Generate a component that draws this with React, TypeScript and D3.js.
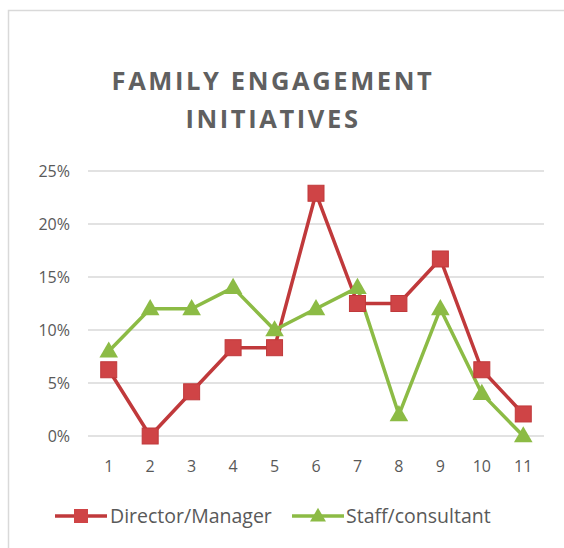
import React, { useEffect, useRef } from 'react';
import * as d3 from 'd3';

const categories = ['1', '2', '3', '4', '5', '6', '7', '8', '9', '10', '11'];
const directorValues = [6.25, 0, 4.17, 8.33, 8.33, 22.9, 12.5, 12.5, 16.7, 6.25, 2.08];
const staffValues = [8, 12, 12, 14, 10, 12, 14, 2, 12, 4, 0];
const yTicks = [0, 5, 10, 15, 20, 25];
const seriesNames = ['Director/Manager', 'Staff/consultant'];

const App = () => {
  const svgRef = useRef<SVGSVGElement>(null);

  useEffect(() => {
    const svg = d3.select(svgRef.current);
    svg.selectAll('*').remove();

    const width = 564;
    const height = 548;
    const margin = { top: 171, right: 20, bottom: 112, left: 88 };
    const innerW = 544 - margin.left;
    const innerH = 436 - margin.top;
    const font = "'Open Sans', 'Noto Sans', sans-serif";
    const textColor = '#595959';
    const red = '#c0393b';
    const redFill = '#cf4446';
    const green = '#8cbb45';

    svg.attr('width', width).attr('height', height);

    // chart frame
    svg.append('rect')
      .attr('x', 8.5).attr('y', 10.5)
      .attr('width', 600).attr('height', 600)
      .attr('fill', 'white')
      .attr('stroke', '#d9d9d9')
      .attr('stroke-width', 1.5);

    // title
    const title = svg.append('text')
      .attr('text-anchor', 'middle')
      .attr('fill', '#606060')
      .attr('font-family', font)
      .attr('font-weight', 'bold')
      .attr('font-size', 25.5)
      .attr('letter-spacing', 2.6);
    title.append('tspan').attr('x', 273).attr('y', 90).text('FAMILY ENGAGEMENT');
    title.append('tspan').attr('x', 273).attr('y', 128).text('INITIATIVES');

    const g = svg.append('g')
      .attr('transform', 'translate(' + margin.left + ',' + margin.top + ')');

    const x = d3.scaleBand()
      .domain(categories)
      .range([0, innerW]);

    const y = d3.scaleLinear()
      .domain([0, 25])
      .range([innerH, 0]);

    const cx = (i: number) => (x(categories[i]) as number) + x.bandwidth() / 2;

    // gridlines
    g.selectAll('.grid')
      .data(yTicks)
      .enter().append('line')
      .attr('x1', 0).attr('x2', innerW)
      .attr('y1', d => y(d)).attr('y2', d => y(d))
      .attr('stroke', '#d9d9d9')
      .attr('stroke-width', 1.5);

    // y labels
    g.selectAll('.ylab')
      .data(yTicks)
      .enter().append('text')
      .attr('x', -18)
      .attr('y', d => y(d))
      .attr('dy', '0.35em')
      .attr('text-anchor', 'end')
      .attr('fill', textColor)
      .attr('font-family', font)
      .attr('font-size', 16)
      .text(d => d + '%');

    // x labels
    g.selectAll('.xlab')
      .data(categories)
      .enter().append('text')
      .attr('x', (d, i) => cx(i))
      .attr('y', innerH + 36)
      .attr('text-anchor', 'middle')
      .attr('fill', textColor)
      .attr('font-family', font)
      .attr('font-size', 16)
      .text(d => d);

    const line = d3.line<number>()
      .x((d, i) => cx(i))
      .y(d => y(d));

    const tri = d3.symbol().type(d3.symbolTriangle).size(150);

    // director series
    g.append('path')
      .datum(directorValues)
      .attr('fill', 'none')
      .attr('stroke', red)
      .attr('stroke-width', 3.5)
      .attr('stroke-linejoin', 'round')
      .attr('d', line);

    // staff series
    g.append('path')
      .datum(staffValues)
      .attr('fill', 'none')
      .attr('stroke', green)
      .attr('stroke-width', 3.5)
      .attr('stroke-linejoin', 'round')
      .attr('d', line);

    g.selectAll('.sq')
      .data(directorValues)
      .enter().append('rect')
      .attr('x', (d, i) => cx(i) - 8)
      .attr('y', d => y(d) - 8)
      .attr('width', 16).attr('height', 16)
      .attr('fill', redFill)
      .attr('stroke', red)
      .attr('stroke-width', 1);

    g.selectAll('.tri')
      .data(staffValues)
      .enter().append('path')
      .attr('transform', (d, i) => 'translate(' + cx(i) + ',' + (y(d) + 1) + ')')
      .attr('d', tri)
      .attr('fill', green);

    // legend
    const legend = svg.append('g').attr('transform', 'translate(0,516)');
    const items = [
      { name: seriesNames[0], color: red, x0: 55, textX: 110 },
      { name: seriesNames[1], color: green, x0: 292, textX: 346 },
    ];
    items.forEach((it, k) => {
      legend.append('line')
        .attr('x1', it.x0).attr('x2', it.x0 + 52)
        .attr('y1', 0).attr('y2', 0)
        .attr('stroke', it.color)
        .attr('stroke-width', 3.5);
      if (k === 0) {
        legend.append('rect')
          .attr('x', it.x0 + 19).attr('y', -7)
          .attr('width', 14).attr('height', 14)
          .attr('fill', redFill);
      } else {
        legend.append('path')
          .attr('transform', 'translate(' + (it.x0 + 26) + ',1)')
          .attr('d', d3.symbol().type(d3.symbolTriangle).size(110))
          .attr('fill', green);
      }
      legend.append('text')
        .attr('x', it.textX)
        .attr('y', 0)
        .attr('dy', '0.35em')
        .attr('fill', textColor)
        .attr('font-family', font)
        .attr('font-size', 19.5)
        .text(it.name);
    });
  }, []);

  return <svg ref={svgRef} style={{ position: 'absolute', left: 0, top: 0 }}></svg>;
};

export default App;
